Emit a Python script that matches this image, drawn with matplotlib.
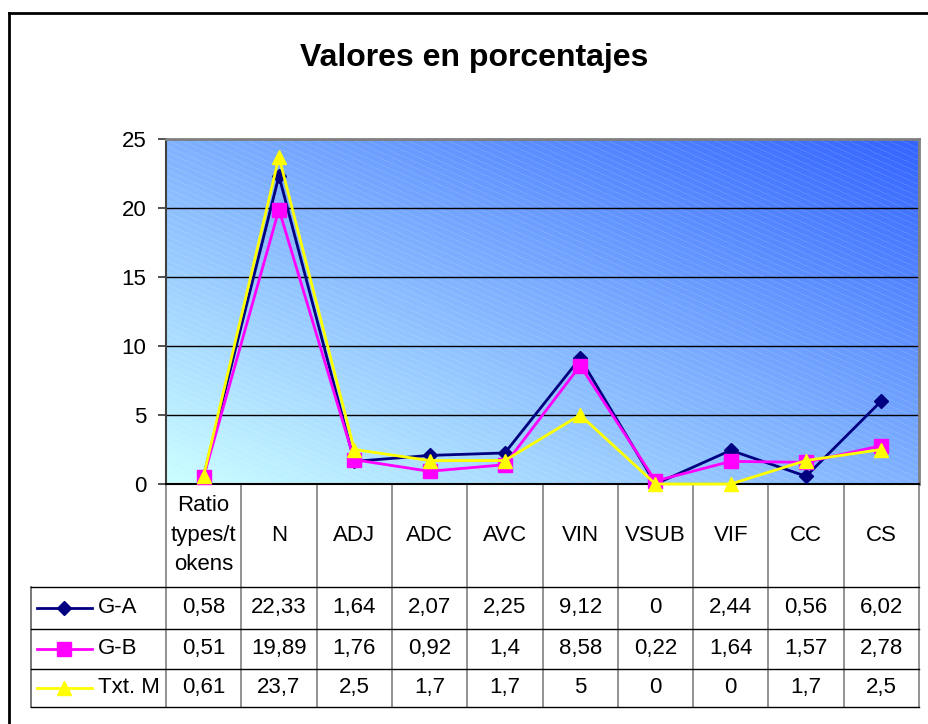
import numpy as np
import matplotlib
matplotlib.use('Agg')
from matplotlib import pyplot as plt
from matplotlib import transforms
from matplotlib.lines import Line2D

plt.rcParams['font.family'] = ['Liberation Sans', 'DejaVu Sans']

# datos
categories = ['Ratio\ntypes/t\nokens', 'N', 'ADJ', 'ADC', 'AVC', 'VIN', 'VSUB', 'VIF', 'CC', 'CS']
series_names = ['G-A', 'G-B', 'Txt. M']
g_a = [0.58, 22.33, 1.64, 2.07, 2.25, 9.12, 0, 2.44, 0.56, 6.02]
g_b = [0.51, 19.89, 1.76, 0.92, 1.4, 8.58, 0.22, 1.64, 1.57, 2.78]
txt_m = [0.61, 23.7, 2.5, 1.7, 1.7, 5, 0, 0, 1.7, 2.5]
y_ticks = [0, 5, 10, 15, 20, 25]

colors = ['#000080', '#FF00FF', '#FFFF00']
markers = ['D', 's', '^']
msizes = [7, 9.5, 10]
FS = 16

fig = plt.figure(figsize=(9.29, 7.24), dpi=100)
ax = fig.add_axes([166/929, 1-484/724, 753/929, 345/724])

# fondo degradado con rayas
H, W = 345, 753
r, c = np.mgrid[0:H, 0:W]
xn = c / (W - 1)
yn = 1 - r / (H - 1)
t = (xn + yn) / 2
c0 = np.array([204, 255, 255]) / 255
c1 = np.array([51, 100, 255]) / 255
img = c0[None, None, :] * (1 - t[..., None]) + c1[None, None, :] * t[..., None]
stripe = ((r - 0.45 * c) % 6) < 1.0
img[stripe] = img[stripe] * 0.88 + 0.12
ax.imshow(img, extent=(-0.5, 9.5, 0, 25), aspect='auto', zorder=0, interpolation='nearest')

x = np.arange(len(categories))
for vals, col, mk, ms in zip([g_a, g_b, txt_m], colors, markers, msizes):
    ax.plot(x, vals, color=col, lw=2.0, marker=mk, ms=ms, mfc=col, mec=col, clip_on=False, zorder=3)

ax.set_xlim(-0.5, 9.5)
ax.set_ylim(0, 25)
ax.set_yticks(y_ticks)
ax.set_xticks([])
ax.tick_params(axis='y', labelsize=FS, length=6, width=1.2, color='#333333', pad=8)
ax.yaxis.grid(True, color='black', lw=1)
ax.set_axisbelow(True)
ax.spines['left'].set_color('#404040')
ax.spines['left'].set_linewidth(1.5)
ax.spines['bottom'].set_color('black')
ax.spines['bottom'].set_linewidth(1.5)
for s in ['top', 'right']:
    ax.spines[s].set_color('#808080')
    ax.spines[s].set_linewidth(2)

# tabla de datos
blend = transforms.blended_transform_factory(ax.transData, ax.transAxes)
row_lines = [-0.2986, -0.4203, -0.5362, -0.6464]
row_centers = [-0.3594, -0.478, -0.591]
leg_left = -0.1793

for k in range(len(categories) + 1):
    ax.add_line(Line2D([k - 0.5, k - 0.5], [0, row_lines[-1]], transform=blend,
                       color='#808080', lw=1.2, clip_on=False))
ax.add_line(Line2D([leg_left, leg_left], [row_lines[0], row_lines[-1]], transform=ax.transAxes,
                   color='#606060', lw=1.2, clip_on=False))
for yl in row_lines:
    ax.add_line(Line2D([leg_left, 1.0], [yl, yl], transform=ax.transAxes,
                       color='black', lw=1.0, clip_on=False))

for i, cat in enumerate(categories):
    ax.text(i, -0.148, cat, transform=blend, ha='center', va='center',
            fontsize=FS, linespacing=1.55)

for vals, yc in zip([g_a, g_b, txt_m], row_centers):
    for i, v in enumerate(vals):
        ax.text(i, yc, f'{v:g}'.replace('.', ','), transform=blend, ha='center', va='center', fontsize=FS)

# claves de leyenda
for name, col, mk, ms, yc in zip(series_names, colors, markers, msizes, row_centers):
    ax.plot([-0.1713, -0.1348, -0.0983], [yc, yc, yc], transform=ax.transAxes, color=col, lw=2.0,
            marker=mk, ms=ms, mfc=col, mec=col, markevery=[1], clip_on=False)
    ax.text(-0.0903, yc, name, transform=ax.transAxes, ha='left', va='center', fontsize=FS)

fig.text(0.510, 1 - 66/724, 'Valores en porcentajes', ha='center', va='baseline',
         fontsize=23, fontweight='bold')

# marco exterior
fx, fy = 9/929, 1 - 13/724
fig.add_artist(Line2D([fx, 1.01], [fy, fy], transform=fig.transFigure, color='black', lw=2))
fig.add_artist(Line2D([fx, fx], [-0.01, fy], transform=fig.transFigure, color='black', lw=2))

plt.savefig('out.png', dpi=100)
